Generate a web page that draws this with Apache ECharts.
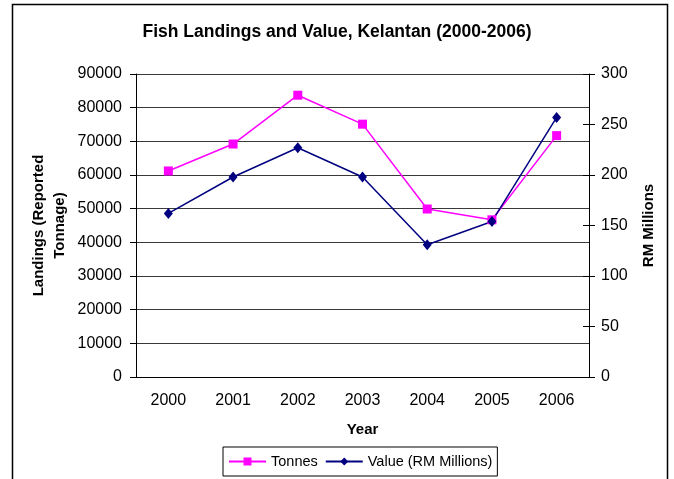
<!DOCTYPE html>
<html>
<head>
<meta charset="utf-8">
<script src="https://cdn.jsdelivr.net/npm/echarts@6/dist/echarts.min.js"></script>
<style>
  html, body { margin: 0; padding: 0; background: #fff; }
  #chart { width: 674px; height: 479px; }
</style>
</head>
<body>
<div id="chart"></div>
<script>
const years = ['2000', '2001', '2002', '2003', '2004', '2005', '2006'];
// landings in tonnes (left axis)
const tonnes = [61200, 69200, 83700, 75100, 49900, 46700, 71700];
// value in RM millions (right axis)
const valueRM = [162, 198, 227, 198, 131, 154, 257];

const FONT = '"Liberation Sans", Arial, sans-serif';

const myChart = echarts.init(document.getElementById('chart'));
const option = {
    backgroundColor: '#fff',
    textStyle: { fontFamily: FONT },
    animation: false,
    title: {
        text: 'Fish Landings and Value, Kelantan (2000-2006)',
        left: 'center',
        top: 23,
        padding: 0,
        textStyle: { fontSize: 17.5, fontWeight: 'bold', color: '#000', fontFamily: FONT }
    },
    // outer frame of the chart area
    graphic: [{
        type: 'rect',
        shape: { x: 12.5, y: 4.5, width: 655, height: 490 },
        style: { fill: null, stroke: '#000', lineWidth: 1.5 },
        silent: true
    }],
    legend: {
        left: 223,
        top: 447,
        padding: [7, 5, 7, 5],
        itemGap: 7,
        itemWidth: 37,
        itemHeight: 10,
        borderColor: '#000',
        borderWidth: 1,
        textStyle: { fontSize: 14.5, color: '#000', fontFamily: FONT },
        data: ['Tonnes', 'Value (RM Millions)']
    },
    grid: {
        left: 136,
        top: 74,
        right: 85,
        bottom: 102
    },
    xAxis: [
        {
            type: 'category',
            data: years,
            name: 'Year',
            nameLocation: 'middle',
            nameGap: 45,
            nameMoveOverlap: false,
            nameTextStyle: { fontSize: 15, fontWeight: 'bold', color: '#000' },
            axisLine: { lineStyle: { color: '#000', width: 1 } },
            axisTick: { length: 6, lineStyle: { color: '#000' } },
            axisLabel: { fontSize: 16, color: '#000', margin: 16 }
        },
        {
            // inner half of the cross ticks
            type: 'category',
            data: years,
            position: 'bottom',
            axisLine: { show: false },
            axisTick: { inside: true, length: 6, lineStyle: { color: '#000' } },
            axisLabel: { show: false }
        }
    ],
    yAxis: [
        {
            type: 'value',
            min: 0,
            max: 90000,
            interval: 10000,
            name: 'Landings (Reported\nTonnage)',
            nameLocation: 'middle',
            nameGap: 66,
            nameMoveOverlap: false,
            nameTextStyle: { fontSize: 15, fontWeight: 'bold', color: '#000', lineHeight: 21 },
            axisLine: { show: true, lineStyle: { color: '#000' } },
            axisTick: { show: true, length: 6, lineStyle: { color: '#000' } },
            axisLabel: { fontSize: 16, color: '#000', margin: 14, formatter: v => String(v) },
            splitLine: { lineStyle: { color: '#3a3a3a', width: 1 } }
        },
        {
            type: 'value',
            min: 0,
            max: 300,
            interval: 50,
            position: 'right',
            name: 'RM Millions',
            nameLocation: 'middle',
            nameGap: 52,
            nameMoveOverlap: false,
            nameTextStyle: { fontSize: 15, fontWeight: 'bold', color: '#000' },
            axisLine: { show: true, lineStyle: { color: '#000' } },
            axisTick: { show: true, length: 6, lineStyle: { color: '#000' } },
            axisLabel: { fontSize: 16, color: '#000', margin: 12 },
            splitLine: { show: false }
        },
        {
            // inner half of the right cross ticks
            type: 'value',
            min: 0,
            max: 300,
            interval: 50,
            position: 'right',
            axisLine: { show: false },
            axisTick: { show: true, inside: true, length: 6, lineStyle: { color: '#000' } },
            axisLabel: { show: false },
            splitLine: { show: false }
        }
    ],
    series: [
        {
            name: 'Tonnes',
            type: 'line',
            yAxisIndex: 0,
            data: tonnes,
            symbol: 'rect',
            symbolSize: 9,
            color: '#ff00ff',
            lineStyle: { width: 1.5, color: '#ff00ff' },
            itemStyle: { color: '#ff00ff' }
        },
        {
            name: 'Value (RM Millions)',
            type: 'line',
            yAxisIndex: 1,
            data: valueRM,
            symbol: 'diamond',
            symbolSize: [9, 11],
            color: '#000080',
            lineStyle: { width: 1.5, color: '#000080' },
            itemStyle: { color: '#000080' }
        }
    ]
};
myChart.setOption(option);
</script>
</body>
</html>
